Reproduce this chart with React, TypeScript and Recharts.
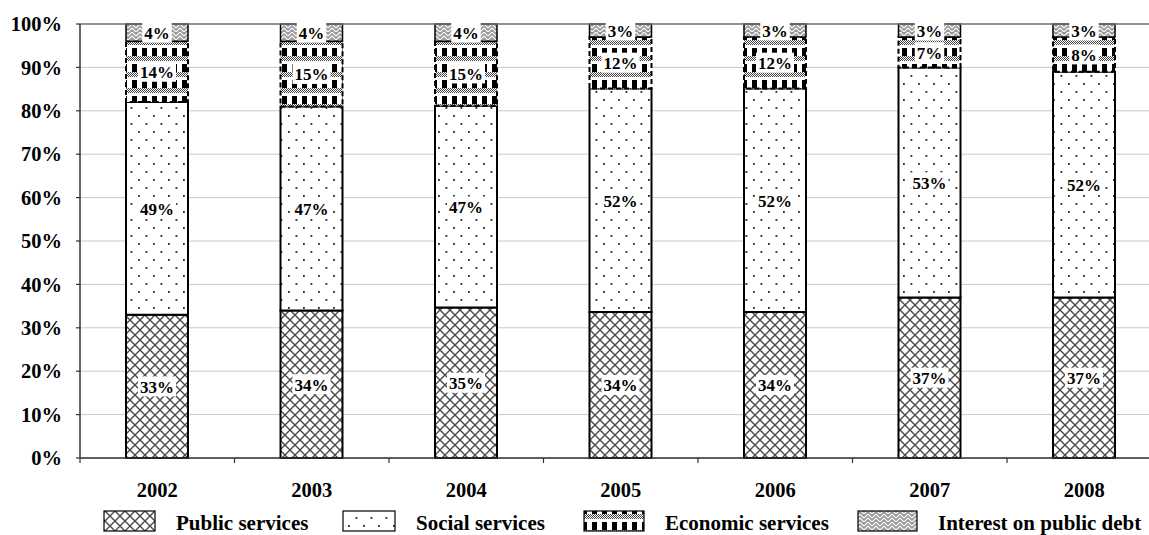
import React from 'react';
import { BarChart, Bar, XAxis, YAxis, CartesianGrid, LabelList, Legend, ReferenceLine } from 'recharts';

const YEARS = ['2002', '2003', '2004', '2005', '2006', '2007', '2008'];
const PUBLIC_SERVICES = [33, 34, 35, 34, 34, 37, 37];
const SOCIAL_SERVICES = [49, 47, 47, 52, 52, 53, 52];
const ECONOMIC_SERVICES = [14, 15, 15, 12, 12, 7, 8];
const INTEREST_ON_DEBT = [4, 4, 4, 3, 3, 3, 3];
const Y_TICKS = [0, 0.1, 0.2, 0.3, 0.4, 0.5, 0.6, 0.7, 0.8, 0.9, 1];

const SERIES = [
  { key: 'publicServices', name: 'Public services', pattern: 'crosshatch', dash: undefined, width: 2 },
  { key: 'socialServices', name: 'Social services', pattern: 'dots', dash: undefined, width: 2 },
  { key: 'economicServices', name: 'Economic services', pattern: 'blocks', dash: '5 3', width: 2 },
  { key: 'interestOnDebt', name: 'Interest on public debt', pattern: 'weave', dash: undefined, width: 1.5 },
];

const data = YEARS.map((year, i) => ({
  year,
  publicServices: PUBLIC_SERVICES[i],
  socialServices: SOCIAL_SERVICES[i],
  economicServices: ECONOMIC_SERVICES[i],
  interestOnDebt: INTEREST_ON_DEBT[i],
}));

const FONT = '"Liberation Serif", "Times New Roman", serif';

// Hatch fills shared by the bars and the legend swatches
const PatternDefs = ({ prefix }: { prefix: string }) => (
  <defs>
    <pattern id={`${prefix}crosshatch`} patternUnits="userSpaceOnUse" width={10} height={10}>
      <rect width={10} height={10} fill="#fff" />
      <path d="M0,0 L10,10 M10,0 L0,10" stroke="#4a4a4a" strokeWidth={1.4} />
    </pattern>
    <pattern id={`${prefix}dots`} patternUnits="userSpaceOnUse" width={15} height={16}>
      <rect width={15} height={16} fill="#fff" />
      <rect x={3} y={3} width={1.8} height={1.8} fill="#222" />
      <rect x={10.5} y={11} width={1.8} height={1.8} fill="#222" />
    </pattern>
    <pattern id={`${prefix}checker`} patternUnits="userSpaceOnUse" width={2} height={2}>
      <rect width={2} height={2} fill="#fff" />
      <rect width={1} height={1} fill="#444" />
      <rect x={1} y={1} width={1} height={1} fill="#444" />
    </pattern>
    <pattern id={`${prefix}blocks`} patternUnits="userSpaceOnUse" width={10} height={16}>
      <rect width={10} height={16} fill="#fff" />
      <rect x={2} y={0} width={5} height={8} fill="#000" />
      <rect x={0} y={8} width={10} height={5} fill={`url(#${prefix}checker)`} />
    </pattern>
    <pattern id={`${prefix}weave`} patternUnits="userSpaceOnUse" width={8} height={8}>
      <rect width={8} height={8} fill="#999" />
      <path d="M0,4 L4,0 L8,4 M0,8 L4,4 L8,8" stroke="#fff" strokeWidth={1.2} fill="none" />
    </pattern>
  </defs>
);

const ValueLabel = (props: any) => {
  const { x, y, width, height, value } = props;
  if (value == null) return null;
  const text = `${value}%`;
  const fs = 17;
  const tw = (String(value).length * 0.5 + 1) * fs;
  const cx = x + width / 2;
  const cy = y + height / 2;
  return (
    <g>
      <rect x={cx - tw / 2 - 2} y={cy - 10} width={tw + 4} height={20} fill="#fff" />
      <text x={cx} y={cy + 1} textAnchor="middle" dominantBaseline="central" fontFamily={FONT} fontWeight="bold" fontSize={fs} fill="#000">
        {text}
      </text>
    </g>
  );
};

const YearTick = (props: any) => {
  const { x, y, payload } = props;
  const half = payload && typeof payload.offset === 'number' && payload.offset > 0 ? payload.offset : 77.25;
  const isLast = payload.index === YEARS.length - 1;
  return (
    <g>
      <line x1={x - half} x2={x - half} y1={y} y2={y + 5} stroke="#333" strokeWidth={1.2} />
      {isLast && <line x1={x + half} x2={x + half} y1={y} y2={y + 5} stroke="#333" strokeWidth={1.2} />}
      <text x={x} y={y + 39} textAnchor="middle" fontFamily={FONT} fontWeight="bold" fontSize={20.5} fill="#000">
        {payload.value}
      </text>
    </g>
  );
};

// Legend swatch placement (left edge, width)
const LEGEND_X = [104, 343, 584, 858];
const LEGEND_W = [51, 52, 60, 59];

const LegendContent = () => (
  <svg width={1149} height={30} style={{ display: 'block' }}>
    <PatternDefs prefix="lg-" />
    {SERIES.map((s, i) => (
      <g key={s.key}>
        <rect x={LEGEND_X[i]} y={5} width={LEGEND_W[i]} height={20} fill={`url(#lg-${s.pattern})`} stroke="#000" strokeWidth={1.2} />
        <text x={LEGEND_X[i] + LEGEND_W[i] + 21} y={24} fontFamily={FONT} fontWeight="bold" fontSize={21} fill="#000">
          {s.name}
        </text>
      </g>
    ))}
  </svg>
);

export default function App() {
  return (
    <div style={{ position: 'fixed', left: 0, top: 0, width: 1149, height: 535, overflow: 'hidden', background: '#fff' }}>
      <BarChart
        width={1170}
        height={535}
        data={data}
        stackOffset="expand"
        margin={{ top: 24, right: 8.5, bottom: 0, left: 0 }}
        barSize={62}
      >
        <PatternDefs prefix="bar-" />
        <CartesianGrid vertical={false} stroke="#c8c8c8" strokeWidth={1} />
        <ReferenceLine y={1} stroke="#777" strokeWidth={1.5} />
        <XAxis
          dataKey="year"
          type="category"
          interval={0}
          height={77}
          axisLine={{ stroke: '#333', strokeWidth: 1.5 }}
          tickLine={false}
          tickSize={0}
          tickMargin={0}
          tick={<YearTick />}
        />
        <YAxis
          type="number"
          domain={[0, 1]}
          ticks={Y_TICKS}
          width={80}
          axisLine={{ stroke: '#333', strokeWidth: 1.5 }}
          tickLine={{ stroke: '#333', strokeWidth: 1.2 }}
          tickSize={4}
          tickMargin={14}
          tickFormatter={(v: number) => `${Math.round(v * 100)}%`}
          tick={{ fontFamily: FONT, fontWeight: 'bold', fontSize: 20.5, fill: '#000' }}
        />
        {SERIES.map((s) => (
          <Bar
            key={s.key}
            dataKey={s.key}
            name={s.name}
            stackId="total"
            fill={`url(#bar-${s.pattern})`}
            stroke="#000"
            strokeWidth={s.width}
            strokeDasharray={s.dash}
            isAnimationActive={false}
          >
            <LabelList dataKey={s.key} content={<ValueLabel />} />
          </Bar>
        ))}
        <Legend
          layout="horizontal"
          verticalAlign="middle"
          align="center"
          wrapperStyle={{ position: 'absolute', left: 0, top: 506, width: 1149, height: 30 }}
          content={<LegendContent />}
        />
      </BarChart>
    </div>
  );
}
